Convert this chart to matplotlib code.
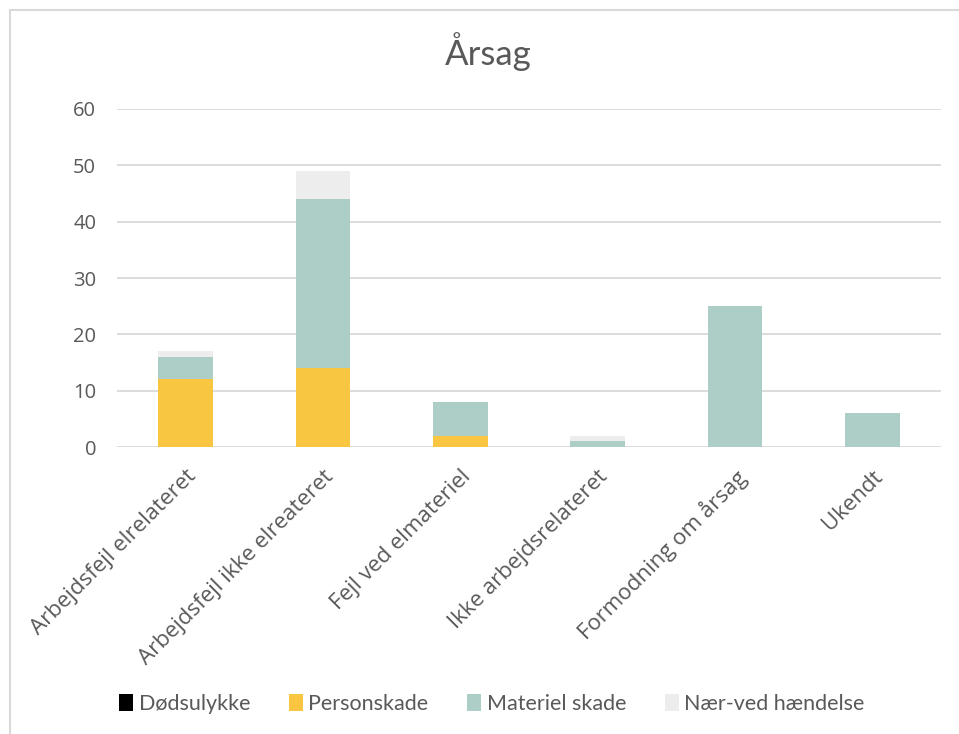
import matplotlib
matplotlib.use("Agg")
import matplotlib.pyplot as plt
import numpy as np
from matplotlib.lines import Line2D

categories = ["Arbejdsfejl elrelateret", "Arbejdsfejl ikke elreateret", "Fejl ved elmateriel",
              "Ikke arbejdsrelateret", "Formodning om årsag", "Ukendt"]
series_names = ["Dødsulykke", "Personskade", "Materiel skade", "Nær-ved hændelse"]
doedsulykke = [0, 0, 0, 0, 0, 0]
personskade = [12, 14, 2, 0, 0, 0]
materiel = [4, 30, 6, 1, 25, 6]
naerved = [1, 5, 0, 1, 0, 0]
colors = ["#000000", "#F9C642", "#ADCEC6", "#EDEDED"]

plt.rcParams['font.family'] = ['Lato', 'DejaVu Sans']
W, H = 959, 734
fig = plt.figure(figsize=(W/100, H/100), dpi=100)
ax = fig.add_axes([117/W, 1-447/H, (941-117)/W, (447-109)/H])

x = np.arange(len(categories))
bottom = np.zeros(len(categories))
for name, vals, c in zip(series_names, [doedsulykke, personskade, materiel, naerved], colors):
    ax.bar(x, vals, 0.4, bottom=bottom, color=c, label=name, zorder=3)
    bottom += np.array(vals)

ax.set_xlim(-0.5, len(categories)-0.5)
ax.set_ylim(0, 60)
ax.set_yticks(range(0, 61, 10))
ax.yaxis.grid(True, color="#D9D9D9", linewidth=1.3, zorder=0)
for s in ax.spines.values():
    s.set_visible(False)
ax.tick_params(axis='both', length=0, colors="#595959")
ax.tick_params(axis='y', pad=15)
for lbl in ax.get_yticklabels():
    lbl.set_fontfamily(['Open Sans', 'DejaVu Sans'])
    lbl.set_fontsize(14.5)
ax.set_xticks(x)
ax.set_xticklabels(categories, rotation=45, ha='right', rotation_mode='anchor',
                   fontsize=16, family=['Open Sans', 'DejaVu Sans'])
for lbl in ax.get_xticklabels():
    lbl.set_transform(lbl.get_transform() + matplotlib.transforms.ScaledTranslation(0.0, -0.14, fig.dpi_scale_trans))

fig.text(488/W, 1-52/H, "Årsag", ha='center', va='center', fontsize=25, color="#595959")

leg = fig.legend(loc='center', bbox_to_anchor=(492/W, 1-704/H), ncol=4, frameon=False,
                 fontsize=15.5, handlelength=0.65, handleheight=0.85, columnspacing=1.8, handletextpad=0.25)
for t in leg.get_texts():
    t.set_color("#595959")

# chart border (partial)
fig.add_artist(Line2D([10/W, 10/W], [0, 1-10/H], color="#D9D9D9", linewidth=1.5, transform=fig.transFigure))
fig.add_artist(Line2D([10/W, 1], [1-10/H, 1-10/H], color="#D9D9D9", linewidth=1.5, transform=fig.transFigure))

fig.savefig("out.png", dpi=100)
